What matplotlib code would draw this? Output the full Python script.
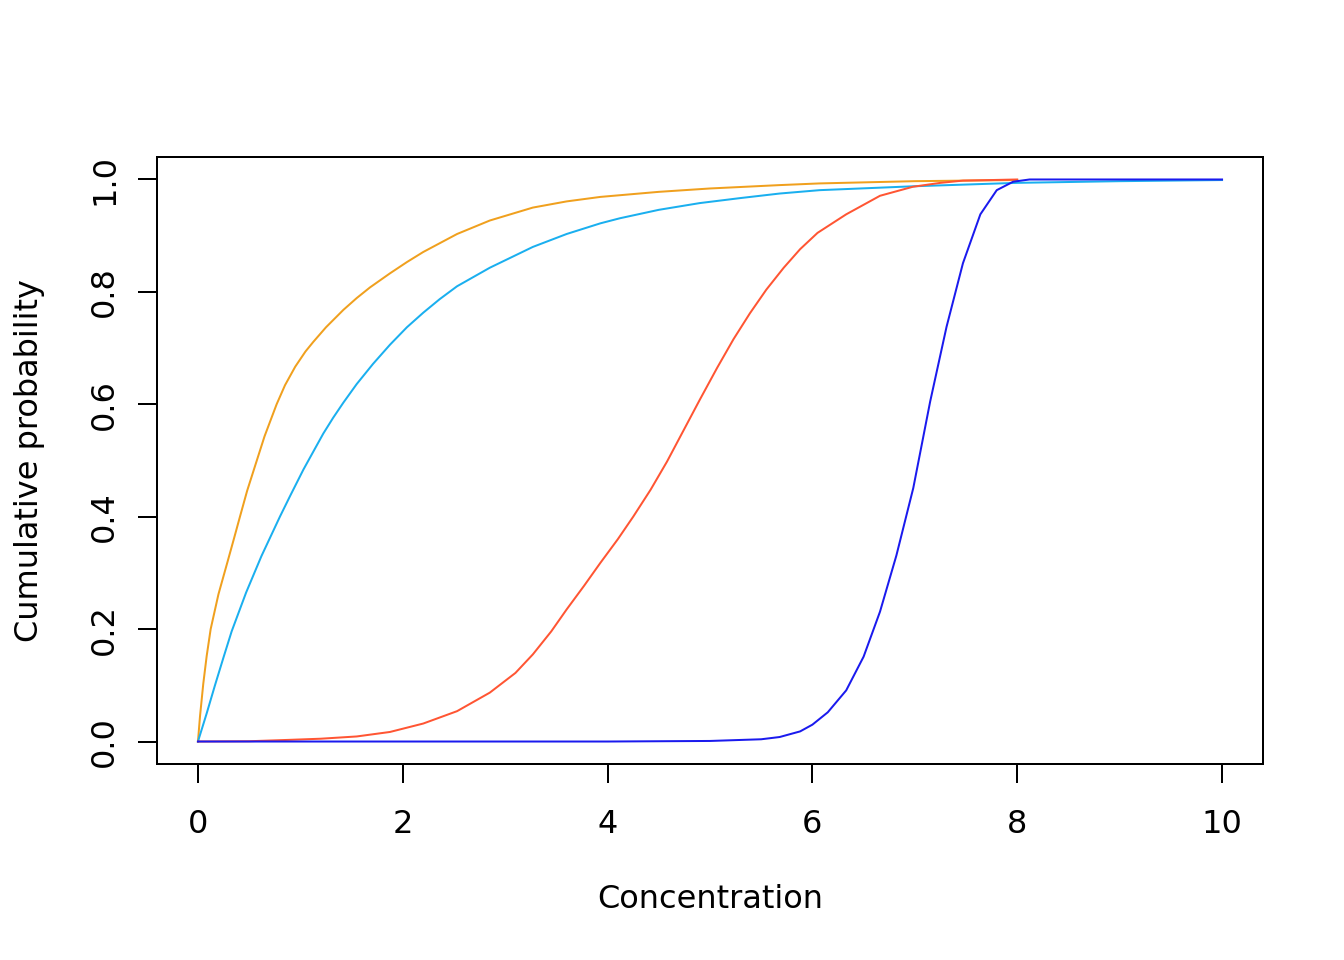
import matplotlib
matplotlib.use("Agg")
import matplotlib.pyplot as plt

# values (x, cumulative probability)
orange_x = [0.0, 0.02, 0.052, 0.085, 0.124, 0.2, 0.286, 0.35, 0.41, 0.48, 0.557, 0.65, 0.768,
            0.85, 0.95, 1.05, 1.126, 1.25, 1.42, 1.55, 1.68, 1.875, 2.04, 2.2, 2.53, 2.85, 3.27,
            3.6, 3.93, 4.5, 5.0, 5.68, 6.07, 7.0, 8.0]
orange_y = [0.0, 0.045, 0.103, 0.152, 0.2, 0.262, 0.318, 0.36, 0.4, 0.446, 0.49, 0.543, 0.6,
            0.634, 0.667, 0.694, 0.711, 0.737, 0.768, 0.789, 0.808, 0.833, 0.853, 0.871, 0.903,
            0.927, 0.95, 0.961, 0.969, 0.978, 0.984, 0.99, 0.993, 0.997, 0.999]

cyan_x = [0.0, 0.085, 0.166, 0.25, 0.329, 0.47, 0.62, 0.8, 0.9, 1.03, 1.133, 1.224, 1.32, 1.42,
          1.55, 1.71, 1.875, 2.04, 2.2, 2.36, 2.53, 2.85, 3.27, 3.6, 3.93, 4.12, 4.5, 4.9, 5.3,
          5.68, 6.07, 7.0, 8.0, 9.0, 10.0]
cyan_y = [0.0, 0.05, 0.1, 0.15, 0.196, 0.265, 0.33, 0.4, 0.437, 0.484, 0.518, 0.548, 0.576,
          0.603, 0.636, 0.672, 0.706, 0.737, 0.763, 0.787, 0.81, 0.843, 0.88, 0.903, 0.922,
          0.931, 0.946, 0.958, 0.967, 0.975, 0.981, 0.988, 0.994, 0.997, 0.999]

red_x = [0.0, 0.5, 0.9, 1.2, 1.55, 1.875, 2.2, 2.53, 2.85, 3.1, 3.27, 3.45, 3.6, 3.77, 3.93,
         4.1, 4.25, 4.42, 4.58, 4.74, 4.9, 5.07, 5.23, 5.39, 5.55, 5.72, 5.88, 6.05, 6.33,
         6.66, 6.98, 7.25, 7.47, 7.75, 8.0]
red_y = [0.0, 0.0005, 0.003, 0.005, 0.009, 0.017, 0.032, 0.054, 0.087, 0.122, 0.155, 0.196,
         0.235, 0.277, 0.318, 0.36, 0.4, 0.448, 0.498, 0.553, 0.608, 0.665, 0.716, 0.762,
         0.804, 0.843, 0.876, 0.905, 0.938, 0.971, 0.987, 0.994, 0.998, 0.999, 1.0]

blue_x = [0.0, 4.0, 5.0, 5.5, 5.68, 5.88, 6.0, 6.15, 6.33, 6.5, 6.66, 6.82, 6.985, 7.15, 7.31,
          7.47, 7.64, 7.8, 7.96, 8.12, 9.0, 10.0]
blue_y = [0.0, 0.0, 0.001, 0.004, 0.008, 0.018, 0.03, 0.052, 0.091, 0.151, 0.231, 0.331,
          0.451, 0.605, 0.738, 0.851, 0.938, 0.981, 0.996, 1.0, 1.0, 1.0]

x_ticks = [0, 2, 4, 6, 8, 10]
y_ticks = [0.0, 0.2, 0.4, 0.6, 0.8, 1.0]
y_ticklabels = ["0.0", "0.2", "0.4", "0.6", "0.8", "1.0"]

fig = plt.figure(figsize=(1344 / 144, 960 / 144), dpi=144)
ax = fig.add_axes([157 / 1344, 1 - 764 / 960, (1263 - 157) / 1344, (764 - 157) / 960])

lw = 1.0
ax.plot(orange_x, orange_y, color="#F0A01E", lw=lw)
ax.plot(cyan_x, cyan_y, color="#1AAFEF", lw=lw)
ax.plot(red_x, red_y, color="#FF5533", lw=lw)
ax.plot(blue_x, blue_y, color="#1A1AEE", lw=lw)

ax.set_xlim(-0.4, 10.4)
ax.set_ylim(-0.04, 1.04)

for s in ax.spines.values():
    s.set_linewidth(1.0)

ax.set_xticks(x_ticks)
ax.set_xticklabels([str(t) for t in x_ticks])
ax.set_yticks(y_ticks)
ax.set_yticklabels(y_ticklabels, rotation=90, va="center")
ax.tick_params(direction="out", length=9.5, width=1.0, labelsize=16)
ax.tick_params(axis="x", pad=13)
ax.tick_params(axis="y", pad=9)

ax.set_xlabel("Concentration", fontsize=16, labelpad=22)
ax.set_ylabel("Cumulative probability", fontsize=16, labelpad=22)

fig.savefig("out.png", dpi=144)
